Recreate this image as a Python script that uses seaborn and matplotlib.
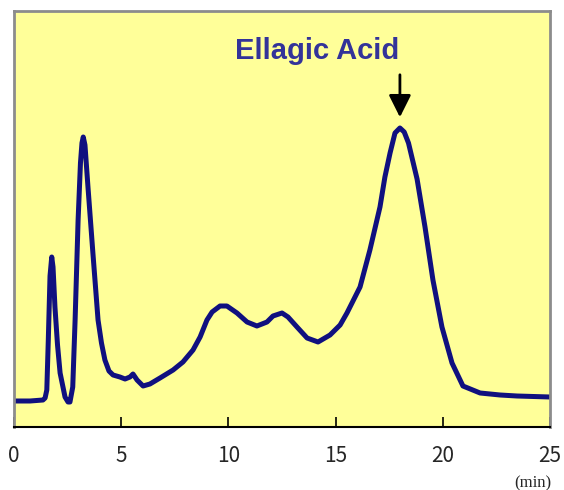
import pandas as pd
import seaborn as sns
import matplotlib.pyplot as plt

# retention time (min) and detector signal (arbitrary units)
time_min = [0.00, 0.75, 1.35, 1.45, 1.53, 1.60, 1.68, 1.76, 1.82, 1.91, 2.03, 2.15,
            2.38, 2.52, 2.61, 2.74, 2.85, 2.99, 3.10, 3.17, 3.23, 3.31, 3.45, 3.68,
            3.92, 4.08, 4.24, 4.43, 4.62, 4.94, 5.18, 5.41, 5.55, 5.74, 6.02, 6.34,
            6.81, 7.42, 7.88, 8.35, 8.68, 9.00, 9.24, 9.61, 9.93, 10.40, 10.87,
            11.33, 11.80, 12.08, 12.50, 12.78, 13.20, 13.67, 14.18, 14.74, 15.21,
            15.53, 16.14, 16.60, 17.07, 17.30, 17.54, 17.77, 18.00, 18.20, 18.40,
            18.80, 19.17, 19.54, 19.96, 20.43, 20.94, 21.74, 22.67, 23.46, 25.00]
signal = [0, 0, 1, 3, 11, 61, 125, 144, 134, 94, 56, 28,
          4, -1, -1, 14, 81, 181, 238, 258, 264, 256, 214, 148,
          81, 58, 41, 30, 26, 24, 22, 24, 27, 21, 15, 17,
          23, 31, 39, 51, 64, 81, 89, 95, 95, 88, 79,
          75, 79, 85, 88, 84, 74, 63, 59, 66, 76,
          88, 114, 151, 194, 224, 248, 268, 273, 269, 258,
          222, 174, 121, 74, 38, 15, 8, 6, 5, 4]

x_ticks = [0, 5, 10, 15, 20, 25]
peak_name = "Ellagic Acid"
peak_time = 18.0
peak_height = 273

df = pd.DataFrame({"time": time_min, "signal": signal})

sns.set_style("white")
fig = plt.figure(figsize=(5.64, 4.90), dpi=100)
ax = fig.add_axes([14 / 564, 63 / 490, 536 / 564, 416 / 490])
ax.set_facecolor("#FFFF99")

sns.lineplot(data=df, x="time", y="signal", ax=ax, color="#10107F", linewidth=3.6)
ax.lines[0].set_solid_joinstyle("round")
ax.lines[0].set_solid_capstyle("round")

ax.set_xlim(0, 25)
ax.set_ylim(-26, 390)
ax.set_xticks(x_ticks)
ax.set_xticklabels([str(t) for t in x_ticks], fontsize=15, family=["Noto Sans CJK JP", "DejaVu Sans"])
ax.set_yticks([])
ax.set_xlabel("")
ax.set_ylabel("")
ax.tick_params(axis="x", direction="in", length=7, width=1.2, color="black", pad=13, bottom=True)

for side in ["left", "top", "right"]:
    ax.spines[side].set_color("#8C8C8C")
    ax.spines[side].set_linewidth(2)
ax.spines["bottom"].set_color("black")
ax.spines["bottom"].set_linewidth(1.5)

ax.annotate("", xy=(peak_time, peak_height + 8), xytext=(peak_time, peak_height + 56),
            arrowprops=dict(arrowstyle="-|>,head_width=0.45,head_length=0.9",
                            color="black", lw=2, mutation_scale=15))
ax.text(peak_time - 0.05, 342, peak_name, ha="right", va="baseline",
        fontsize=21, fontweight="bold", color="#333399", family="Liberation Sans")

fig.text(533 / 564, 1 - 483 / 490, "(min)", ha="center", va="center",
         fontsize=12, family="Liberation Serif")

plt.savefig("out.png", dpi=100)
